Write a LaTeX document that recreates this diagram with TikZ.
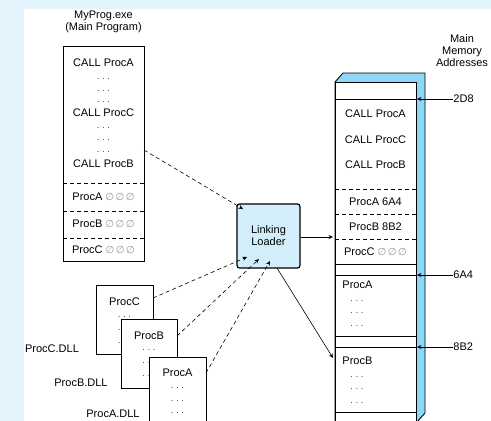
\documentclass[tikz,border=0pt]{standalone}
\usepackage{fontspec}
\setmainfont{Liberation Sans}
\newfontfamily\symfont{DejaVu Sans}
\usetikzlibrary{arrows.meta}
\definecolor{bgblue}{HTML}{E4F4FC}
\definecolor{ldrblue}{HTML}{D3EEFB}
\definecolor{memblue}{HTML}{8DD7F7}
\newcommand{\nullx}{{\symfont\color{gray!80}\fontsize{10}{10}\selectfont ∅\kern1.5pt∅\kern1.5pt∅}}
\newcommand{\dotrow}{. . .}
\tikzset{
	txt/.style={inner sep=0pt, font=\fontsize{11}{12}\selectfont},
	dts/.style={inner sep=0pt, font=\fontsize{8}{8}\selectfont},
	tip/.style={-{Stealth[length=4.5pt,width=4pt]}},
	dsh/.style={dash pattern=on 4pt off 3pt, line width=0.6pt}
}
\begin{document}
\begin{tikzpicture}[x=1pt, y=-1pt, line width=0.9pt]
		\clip (0,0) rectangle (491,421);
		\fill[bgblue] (0,0) rectangle (491,421);
		\fill[white] (24,9) rectangle (491,421);
		
		%main program
		\node[txt, align=center] (progname) at (103.5,22) {MyProg.exe\\(Main Program)};
		\draw (63,46) rectangle (144,261);
		\node[txt] (pcalla) at (103.5,63) {CALL ProcA};
		\node[txt] (pcallc) at (103.5,113) {CALL ProcC};
		\node[txt] (pcallb) at (103.5,164) {CALL ProcB};
		\foreach \y in {79, 91, 102, 128, 140, 152}{
			\node[dts] at (103.5,\y) {\dotrow};
		}
		\foreach \y in {183, 211, 238}{
			\draw[dashed, dash pattern=on 4pt off 3pt] (63,\y) -- (144,\y);
		}
		\node[txt] (pproca) at (103.5,197) {ProcA \nullx};
		\node[txt] (pprocb) at (103.5,224) {ProcB \nullx};
		\node[txt] (pprocc) at (103.5,250) {ProcC \nullx};
		\coordinate (pout) at (144,150);
		
		%linking loader
		\node[draw, line width=1.2pt, rounded corners=2.5pt, fill=ldrblue, minimum width=63, minimum height=64, align=center, txt] (ldr) at (268.5,236) {Linking\\Loader};
		\coordinate (lin1) at (243,209);
		\coordinate (lin2) at (247,257);
		\coordinate (lin3) at (259,259);
		\coordinate (lin4) at (270,261);
		\coordinate (lout) at (277,268);
		\draw[dsh, tip] (pout) -- (lin1);
		
		%DLLs
		\draw[fill=white] (96,285) rectangle (153,354);
		\node[txt] (dllc) at (124.5,302) {ProcC};
		\foreach \y in {317, 330, 343}{
			\node[dts] at (124.5,\y) {\dotrow};
		}
		\draw[fill=white] (121,319) rectangle (177,388);
		\node[txt] (dllb) at (149,336) {ProcB};
		\foreach \y in {350, 363, 376}{
			\node[dts] at (149,\y) {\dotrow};
		}
		\draw[fill=white] (149,357) rectangle (206,440);
		\node[txt] (dlla) at (177.5,373) {ProcA};
		\foreach \y in {388, 401, 413}{
			\node[dts] at (177.5,\y) {\dotrow};
		}
		\node[txt] (namec) at (52,349) {ProcC.DLL};
		\node[txt] (nameb) at (81,383) {ProcB.DLL};
		\node[txt] (namea) at (113,414) {ProcA.DLL};
		\coordinate (cout) at (153,298);
		\coordinate (bout) at (177,336);
		\coordinate (aout) at (206,373);
		\draw[dsh, tip] (cout) -- (lin2);
		\draw[dsh, tip] (bout) -- (lin3);
		\draw[dsh, tip] (aout) -- (lin4);
		
		%main memory
		\draw[fill=memblue] (335,82) -- (343,73) -- (425,73) -- (425,413) -- (417,422) -- (335,422) -- cycle;
		\draw[fill=white] (335,82) rectangle (416,440);
		\foreach \y in {99, 264, 275, 336, 347, 412}{
			\draw (335,\y) -- (416,\y);
		}
		\foreach \y in {189, 214, 239}{
			\draw[dashed, dash pattern=on 4pt off 3pt] (335,\y) -- (416,\y);
		}
		\node[txt] (mcalla) at (375.5,114) {CALL ProcA};
		\node[txt] (mcallc) at (375.5,140) {CALL ProcC};
		\node[txt] (mcallb) at (375.5,165) {CALL ProcB};
		\node[txt] (mproca) at (375.5,202) {ProcA 6A4};
		\node[txt] (mprocb) at (375.5,227) {ProcB 8B2};
		\node[txt] (mprocc) at (375.5,252) {ProcC \nullx};
		\node[txt, anchor=west] (mema) at (342,285) {ProcA};
		\node[txt, anchor=west] (memb) at (342,361) {ProcB};
		\foreach \y in {301, 313, 326, 377, 389, 403}{
			\node[dts] at (357,\y) {\dotrow};
		}
		\coordinate (mina) at (333,237);
		\coordinate (minb) at (333,358);
		\coordinate (mright) at (417,0);
		\draw[line width=0.6pt, tip] (ldr.east |- mina) -- (mina);
		\draw[line width=0.6pt, tip] (lout) -- (minb);
		
		%addresses
		\node[txt, align=center] (addr) at (462,51) {Main\\Memory\\Addresses};
		\node[txt, anchor=west] (ad1) at (453,99) {2D8};
		\node[txt, anchor=west] (ad2) at (453,275) {6A4};
		\node[txt, anchor=west] (ad3) at (453,347) {8B2};
		\foreach \a in {ad1, ad2, ad3}{
			\draw[line width=0.6pt, tip] (\a.west) -- (\a.west -| mright);
		}
\end{tikzpicture}
\end{document}
